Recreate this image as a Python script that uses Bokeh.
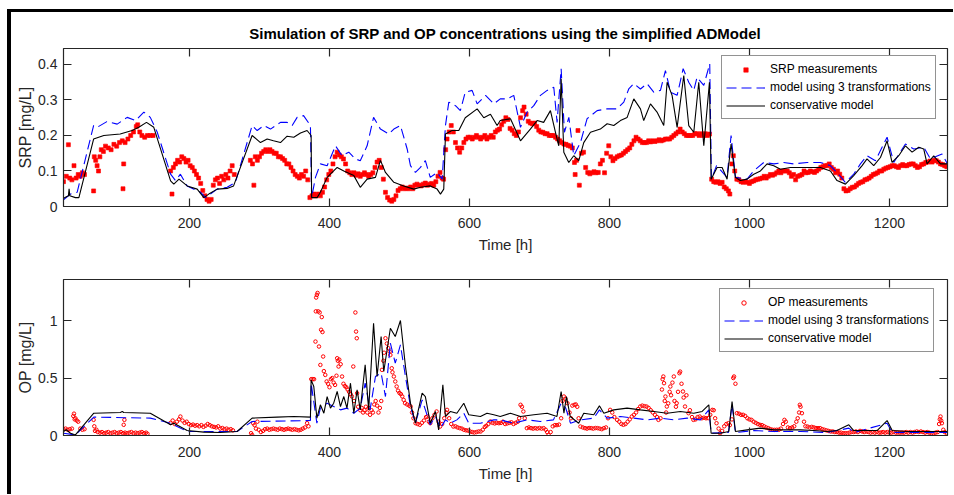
from bokeh.plotting import figure
from bokeh.layouts import column
from bokeh.models import (Range1d, LinearAxis, FixedTicker, CustomJSTickFormatter,
                          Legend, LegendItem, CustomLabelingPolicy, InlineStyleSheet)
from bokeh.embed import file_html
from bokeh.resources import INLINE

# ---------------- data ----------------
title_text = "Simulation of SRP and OP concentrations using the simplified ADModel"
x_ticks = [200, 400, 600, 800, 1000, 1200]
srp_ticks = [0, 0.1, 0.2, 0.3, 0.4]
op_ticks = [0, 0.5, 1]
x_limits = [20, 1283]
srp_limits = [0, 0.445]
op_limits = [0, 1.357]

srp_meas_t = [
    20, 24, 27, 29, 32, 35, 38, 41, 44, 47,
    50, 63, 64, 66, 68, 70, 72, 74, 77, 80,
    84, 88, 92, 96, 100, 104, 105, 106, 108, 112,
    116, 120, 124, 126, 129, 132, 136, 140, 144, 148,
    173, 175, 177, 180, 183, 186, 189, 192, 195, 198,
    201, 204, 207, 210, 213, 216, 219, 222, 225, 228,
    231, 234, 237, 240, 243, 246, 249, 252, 255, 258,
    261, 264, 287, 290, 292, 294, 297, 300, 303, 306,
    309, 312, 315, 318, 321, 324, 327, 330, 333, 336,
    339, 342, 345, 348, 351, 354, 357, 360, 363, 366,
    369, 372, 375, 378, 381, 384, 387, 390, 393, 396,
    399, 402, 405, 408, 411, 414, 417, 420, 423, 426,
    429, 432, 435, 438, 441, 444, 447, 450, 453, 456,
    459, 462, 465, 468, 471, 474, 477, 480, 483, 486,
    489, 492, 495, 498, 501, 504, 507, 510, 513, 516,
    519, 522, 525, 528, 531, 534, 537, 540, 543, 546,
    549, 552, 555, 558, 561, 563, 566, 568, 571, 574,
    577, 580, 583, 586, 589, 592, 595, 598, 601, 604,
    607, 610, 613, 616, 619, 622, 625, 628, 631, 634,
    637, 640, 643, 646, 649, 652, 655, 658, 661, 664,
    667, 670, 673, 676, 678, 681, 684, 687, 690, 693,
    696, 699, 702, 705, 708, 711, 714, 717, 720, 723,
    726, 729, 732, 735, 738, 741, 744, 747, 750, 751,
    753, 755, 757, 760, 763, 766, 769, 772, 775, 778,
    781, 784, 787, 790, 793, 796, 799, 802, 805, 808,
    811, 814, 817, 820, 823, 826, 829, 832, 835, 838,
    841, 844, 847, 850, 853, 856, 859, 862, 865, 868,
    871, 874, 877, 880, 883, 886, 889, 892, 895, 898,
    901, 904, 907, 910, 913, 916, 919, 922, 925, 928,
    931, 934, 937, 940, 943, 946, 949, 952, 955, 958,
    961, 964, 967, 970, 972, 975, 977, 979, 982, 985,
    988, 991, 994, 997, 1000, 1003, 1006, 1009, 1012, 1015,
    1018, 1021, 1024, 1027, 1030, 1033, 1036, 1039, 1042, 1045,
    1048, 1051, 1054, 1057, 1060, 1063, 1066, 1069, 1072, 1075,
    1078, 1081, 1084, 1087, 1090, 1093, 1096, 1099, 1102, 1105,
    1108, 1111, 1114, 1117, 1120, 1123, 1126, 1129, 1132, 1135,
    1138, 1141, 1144, 1147, 1150, 1153, 1156, 1159, 1162, 1165,
    1168, 1171, 1174, 1177, 1180, 1183, 1186, 1189, 1192, 1195,
    1198, 1201, 1204, 1207, 1210, 1213, 1216, 1219, 1222, 1225,
    1228, 1231, 1234, 1237, 1240, 1243, 1246, 1249, 1252, 1255,
    1258, 1261, 1264, 1267, 1270, 1273, 1276, 1279, 1282]
srp_meas = [
    0.07, 0.085, 0.174, 0.08, 0.075, 0.115, 0.08, 0.09, 0.085, 0.095,
    0.09, 0.044, 0.14, 0.13, 0.115, 0.1, 0.14, 0.16, 0.155, 0.17,
    0.165, 0.16, 0.175, 0.17, 0.18, 0.185, 0.05, 0.12, 0.18, 0.19,
    0.2, 0.21, 0.225, 0.23, 0.21, 0.2, 0.195, 0.2, 0.2, 0.2,
    0.1, 0.035, 0.11, 0.12, 0.13, 0.125, 0.14, 0.135, 0.125, 0.13,
    0.115, 0.11, 0.1, 0.09, 0.08, 0.065, 0.045, 0.03, 0.02, 0.015,
    0.02, 0.06, 0.075, 0.08, 0.065, 0.085, 0.075, 0.09, 0.08, 0.1,
    0.115, 0.09, 0.13, 0.12, 0.06, 0.14, 0.13, 0.14, 0.15, 0.155,
    0.16, 0.155, 0.16, 0.155, 0.15, 0.15, 0.14, 0.14, 0.135, 0.13,
    0.12, 0.12, 0.11, 0.1, 0.09, 0.085, 0.08, 0.09, 0.085, 0.1,
    0.075, 0.025, 0.03, 0.035, 0.03, 0.035, 0.03, 0.04, 0.055, 0.075,
    0.09, 0.1, 0.12, 0.14, 0.153, 0.145, 0.14, 0.134, 0.12, 0.1,
    0.095, 0.09, 0.095, 0.088, 0.092, 0.085, 0.09, 0.095, 0.09, 0.085,
    0.09, 0.095, 0.11, 0.125, 0.13, 0.11, 0.077, 0.04, 0.025, 0.018,
    0.015, 0.02, 0.03, 0.045, 0.05, 0.055, 0.05, 0.052, 0.05, 0.055,
    0.05, 0.06, 0.063, 0.06, 0.058, 0.063, 0.066, 0.06, 0.063, 0.065,
    0.06, 0.07, 0.085, 0.096, 0.08, 0.077, 0.16, 0.19, 0.21, 0.228,
    0.21, 0.18, 0.165, 0.153, 0.165, 0.18, 0.19, 0.195, 0.195, 0.19,
    0.195, 0.2, 0.195, 0.19, 0.195, 0.2, 0.19, 0.195, 0.2, 0.195,
    0.21, 0.215, 0.218, 0.23, 0.24, 0.25, 0.245, 0.22, 0.215, 0.205,
    0.2, 0.21, 0.25, 0.27, 0.28, 0.26, 0.24, 0.235, 0.233, 0.235,
    0.225, 0.215, 0.21, 0.209, 0.205, 0.205, 0.2, 0.2, 0.2, 0.195,
    0.19, 0.185, 0.18, 0.176, 0.175, 0.172, 0.17, 0.165, 0.124, 0.09,
    0.13, 0.214, 0.06, 0.15, 0.153, 0.11, 0.096, 0.092, 0.095, 0.098,
    0.095, 0.096, 0.12, 0.13, 0.095, 0.15, 0.171, 0.14, 0.129, 0.135,
    0.14, 0.143, 0.145, 0.15, 0.155, 0.16, 0.165, 0.175, 0.185, 0.195,
    0.19, 0.185, 0.18, 0.18, 0.18, 0.185, 0.182, 0.185, 0.183, 0.185,
    0.188, 0.185, 0.187, 0.19, 0.19, 0.19, 0.195, 0.2, 0.205, 0.21,
    0.218, 0.21, 0.205, 0.2, 0.2, 0.2, 0.2, 0.205, 0.205, 0.2,
    0.205, 0.2, 0.205, 0.2, 0.204, 0.077, 0.07, 0.068, 0.07, 0.065,
    0.068, 0.055, 0.05, 0.044, 0.035, 0.12, 0.143, 0.1, 0.077, 0.075,
    0.07, 0.068, 0.07, 0.068, 0.065, 0.07, 0.072, 0.075, 0.077, 0.078,
    0.08, 0.085, 0.08, 0.085, 0.09, 0.088, 0.091, 0.095, 0.1, 0.095,
    0.1, 0.1, 0.1, 0.095, 0.085, 0.09, 0.075, 0.085, 0.087, 0.09,
    0.1, 0.095, 0.096, 0.1, 0.098, 0.096, 0.1, 0.105, 0.11, 0.112,
    0.115, 0.115, 0.12, 0.11, 0.105, 0.095, 0.1, 0.091, 0.08, 0.05,
    0.044, 0.045, 0.05, 0.054, 0.055, 0.06, 0.065, 0.068, 0.07, 0.075,
    0.077, 0.08, 0.085, 0.09, 0.092, 0.095, 0.1, 0.1, 0.105, 0.108,
    0.11, 0.112, 0.115, 0.115, 0.112, 0.11, 0.115, 0.118, 0.115, 0.115,
    0.118, 0.12, 0.12, 0.115, 0.11, 0.112, 0.118, 0.12, 0.124, 0.125,
    0.128, 0.125, 0.13, 0.129, 0.125, 0.12, 0.118, 0.115, 0.112]

srp_model3_t = [
    20, 30, 39.5, 63, 68, 82, 96.7, 111, 123, 134.8,
    144, 154, 173, 180, 187, 196.7, 216, 223, 239.5, 253.8,
    265.7, 289.5, 296.7, 306, 315.7, 330, 339.5, 346.7, 353.8, 363,
    372.8, 374.5, 380, 387, 396.7, 408.6, 418, 427.6, 437, 444,
    453.8, 463, 472.8, 484.8, 492, 501.4, 511, 515.7, 522.8, 530,
    537, 544, 553.8, 561, 565.7, 570.5, 580, 587, 594, 603.8,
    611, 623, 634.8, 644, 654, 663.3, 672.9, 682.4, 691.9, 701.4,
    711, 720.5, 725.2, 731, 735.7, 742, 749, 758.6, 768, 782.4,
    796.7, 811, 820.5, 827.6, 834.8, 844.3, 853.8, 863.3, 872.9, 880,
    887.2, 896.7, 905.3, 913.3, 920.5, 925.2, 934.8, 943.3, 945.7, 953,
    968, 973.8, 980, 996.7, 1006, 1020.5, 1035, 1049, 1063.3, 1082.4,
    1101.4, 1115.7, 1125, 1137, 1149, 1158.6, 1168, 1180, 1196.7, 1206.2,
    1222.9, 1234.8, 1249, 1258.6, 1275.2, 1283]
srp_model3 = [
    0.019, 0.035, 0.04, 0.228, 0.223, 0.239, 0.232, 0.251, 0.242, 0.266,
    0.251, 0.209, 0.091, 0.073, 0.091, 0.058, 0.04, 0.025, 0.049, 0.054,
    0.068, 0.228, 0.214, 0.228, 0.218, 0.237, 0.237, 0.228, 0.251, 0.256,
    0.228, 0.025, 0.082, 0.12, 0.115, 0.171, 0.143, 0.153, 0.134, 0.129,
    0.171, 0.251, 0.218, 0.204, 0.218, 0.228, 0.162, 0.115, 0.096, 0.11,
    0.129, 0.082, 0.096, 0.077, 0.228, 0.294, 0.284, 0.27, 0.322, 0.327,
    0.289, 0.313, 0.289, 0.303, 0.303, 0.313, 0.223, 0.266, 0.284, 0.313,
    0.327, 0.336, 0.237, 0.388, 0.209, 0.251, 0.143, 0.18, 0.247, 0.27,
    0.275, 0.275, 0.294, 0.331, 0.346, 0.331, 0.346, 0.322, 0.327, 0.383,
    0.322, 0.313, 0.388, 0.35, 0.327, 0.364, 0.341, 0.402, 0.077, 0.115,
    0.082, 0.2, 0.082, 0.077, 0.1, 0.124, 0.12, 0.124, 0.12, 0.124,
    0.124, 0.115, 0.096, 0.068, 0.091, 0.12, 0.143, 0.129, 0.195, 0.124,
    0.176, 0.162, 0.167, 0.134, 0.148, 0.12]

srp_cons_t = [
    20, 27, 28, 29, 37, 42, 63, 77.6, 101, 118,
    127.6, 138.6, 149, 173, 177.6, 185, 196.7, 211, 220.5, 227.6,
    239.5, 253.8, 263, 289.5, 301.4, 311, 320, 330, 339.5, 349,
    358.6, 368, 373.8, 374.5, 382.4, 387, 396.7, 411, 420.5, 434.8,
    444, 453.8, 465.7, 472.8, 480, 492, 506, 520.5, 530, 544,
    553.8, 558.6, 563.3, 565.7, 575, 584.8, 594, 611, 620.5, 630,
    639.5, 644, 658.6, 672.9, 687, 696.7, 706, 715.7, 722.9, 727.6,
    731, 734.8, 741.9, 749, 756.2, 763.3, 772.9, 787, 796.7, 806.2,
    815.7, 825.3, 834.8, 844.3, 849, 858.6, 868, 877.6, 882.4, 889.5,
    896.7, 906.2, 913.3, 920.5, 927.6, 934.8, 942.9, 945.3, 953.8, 961,
    968.1, 973.8, 980, 987, 996.7, 1006.2, 1015.7, 1025.2, 1034.8, 1044.3,
    1058.6, 1072.9, 1087.2, 1101.4, 1115.7, 1125.2, 1137.2, 1149, 1161, 1168,
    1177.6, 1187.2, 1196.7, 1203.8, 1213.3, 1222.9, 1232.4, 1242, 1249, 1253.8,
    1263.3, 1272.9, 1283]
srp_cons = [
    0.023, 0.03, 0.05, 0.03, 0.025, 0.025, 0.19, 0.2, 0.204, 0.214,
    0.223, 0.237, 0.223, 0.072, 0.063, 0.077, 0.058, 0.049, 0.025, 0.035,
    0.049, 0.051, 0.058, 0.2, 0.18, 0.19, 0.185, 0.18, 0.198, 0.195,
    0.207, 0.214, 0.2, 0.025, 0.025, 0.04, 0.082, 0.11, 0.1, 0.087,
    0.054, 0.077, 0.082, 0.13, 0.096, 0.068, 0.058, 0.049, 0.054, 0.058,
    0.049, 0.035, 0.049, 0.204, 0.214, 0.214, 0.25, 0.275, 0.25, 0.26,
    0.228, 0.242, 0.247, 0.185, 0.218, 0.242, 0.237, 0.27, 0.209, 0.171,
    0.36, 0.153, 0.124, 0.143, 0.129, 0.18, 0.209, 0.218, 0.233, 0.228,
    0.242, 0.251, 0.303, 0.275, 0.242, 0.289, 0.266, 0.228, 0.35, 0.313,
    0.223, 0.369, 0.228, 0.209, 0.35, 0.171, 0.35, 0.077, 0.11, 0.11,
    0.077, 0.176, 0.082, 0.073, 0.077, 0.091, 0.1, 0.12, 0.115, 0.105,
    0.11, 0.11, 0.11, 0.11, 0.1, 0.073, 0.063, 0.087, 0.115, 0.134,
    0.115, 0.138, 0.185, 0.124, 0.143, 0.171, 0.153, 0.167, 0.162, 0.12,
    0.143, 0.12, 0.12]

op_meas_t = [
    20, 23, 26, 29, 32, 34, 35, 36, 37, 39,
    41, 44, 47, 50, 63, 64, 65, 67, 69, 72,
    75, 78, 81, 84, 87, 90, 93, 96, 99, 102,
    105, 106, 107, 108, 111, 114, 117, 120, 123, 126,
    129, 132, 135, 138, 140, 173, 176, 179, 182, 185,
    187, 190, 193, 196, 199, 202, 205, 208, 211, 214,
    217, 220, 223, 226, 229, 232, 235, 238, 241, 244,
    247, 250, 253, 256, 259, 262, 288, 289.5, 291, 293,
    295, 297, 299, 302, 305, 308, 311, 314, 317, 320,
    323, 326, 329, 332, 335, 338, 341, 344, 347, 350,
    353, 356, 359, 362, 365, 368, 370, 374, 376, 378,
    380, 380.5, 381, 382, 383, 384, 385, 386, 387, 388,
    389, 390, 391, 392, 394, 396, 398, 400, 402, 404,
    406, 408, 410, 411, 412, 413, 414, 416, 418, 420,
    422, 424, 426, 428, 430, 432, 434, 435, 437, 438,
    439, 439.5, 441, 444, 446, 448, 450, 452, 454, 456,
    458, 460, 462, 464, 466, 468, 470, 472, 474, 475,
    477, 478, 480, 482, 484, 486, 487, 489, 490, 492,
    494, 496, 498, 500, 502, 504, 506, 508, 511, 514,
    516, 518, 520, 523, 526, 529, 532, 535, 538, 540,
    542, 544, 547, 550, 553, 556, 558, 561, 564, 567,
    568, 571, 574, 577, 580, 583, 586, 589, 592, 595,
    598, 601, 604, 607, 610, 613, 616, 619, 622, 624,
    627, 630, 633, 636, 639, 642, 645, 648, 651, 654,
    657, 660, 663, 666, 669, 671, 673, 675, 677, 679,
    682, 685, 688, 691, 694, 697, 700, 703, 706, 709,
    711, 713, 716, 719, 722, 725, 728, 731, 733, 735,
    737, 740, 743, 745, 747, 750, 752, 754, 756, 758.6,
    762, 765, 768, 771, 774, 777, 780, 783, 786, 789,
    792, 795, 798, 801, 804, 807, 811, 814, 817, 820,
    823, 826, 829, 832, 835, 838, 841, 844, 847, 850,
    853, 856, 859, 862, 865, 868, 870, 873, 875, 876,
    877, 878, 879, 880, 881, 882, 884, 886, 887, 888,
    890, 892, 893, 895, 896, 898, 900, 901, 903, 905,
    906, 908, 910, 913, 915, 918, 920, 923, 926, 929,
    932, 935, 938, 941, 944, 947, 949, 951, 953, 956,
    958, 961, 964, 967, 970, 972, 975, 977, 978, 980,
    982, 985, 988, 991, 994, 997, 1000, 1003, 1006, 1009,
    1012, 1015, 1018, 1021, 1024, 1027, 1030, 1033, 1036, 1039,
    1042, 1045, 1048, 1050, 1052, 1055, 1058, 1061, 1064, 1067,
    1069, 1071, 1072, 1073, 1075, 1078, 1080, 1083, 1086, 1089,
    1092, 1095, 1098, 1101, 1104, 1107, 1110, 1113, 1116, 1119,
    1122, 1125, 1128, 1131, 1134, 1137, 1140, 1143, 1146, 1149,
    1152, 1155, 1158, 1161, 1164, 1167, 1170, 1173, 1176, 1179,
    1182, 1185, 1188, 1191, 1194, 1197, 1200, 1203, 1206, 1209,
    1212, 1215, 1218, 1221, 1224, 1227, 1230, 1233, 1236, 1239,
    1242, 1245, 1248, 1251, 1254, 1257, 1260, 1263, 1266, 1269,
    1271, 1272, 1273, 1274, 1275, 1277, 1279, 1282]
op_meas = [
    0.055, 0.06, 0.05, 0.055, 0.06, 0.17, 0.19, 0.14, 0.15, 0.13,
    0.12, 0.06, 0.05, 0.055, 0.136, 0.08, 0.04, 0.05, 0.03, 0.025,
    0.03, 0.02, 0.025, 0.03, 0.02, 0.025, 0.03, 0.02, 0.025, 0.03,
    0.02, 0.093, 0.136, 0.025, 0.02, 0.025, 0.03, 0.02, 0.025, 0.02,
    0.025, 0.03, 0.02, 0.025, 0.015, 0.11, 0.13, 0.1, 0.12, 0.14,
    0.165, 0.13, 0.11, 0.12, 0.1, 0.09, 0.095, 0.085, 0.09, 0.08,
    0.09, 0.075, 0.085, 0.1, 0.09, 0.08, 0.075, 0.07, 0.08, 0.06,
    0.065, 0.055, 0.06, 0.05, 0.055, 0.045, 0.02, 0.005, 0.107, 0.09,
    0.06, 0.12, 0.05, 0.03, 0.04, 0.055, 0.06, 0.05, 0.055, 0.06,
    0.055, 0.05, 0.06, 0.055, 0.05, 0.055, 0.06, 0.055, 0.05, 0.055,
    0.05, 0.045, 0.05, 0.06, 0.07, 0.107, 0.08, 0.49, 0.49, 0.49,
    0.817, 1.08, 1.2, 1.223, 1.24, 1.08, 0.774, 1.07, 0.614, 0.92,
    1.03, 0.9, 0.687, 0.56, 0.527, 0.47, 0.45, 0.42, 0.49, 0.5,
    0.46, 0.44, 0.52, 0.672, 0.65, 0.6, 0.66, 0.62, 0.513, 0.45,
    0.43, 0.42, 0.4, 0.38, 0.36, 0.34, 0.6, 0.3, 1.07, 0.904,
    0.846, 0.368, 0.25, 0.22, 0.24, 0.2, 0.22, 0.25, 0.2, 0.24,
    0.18, 0.22, 0.2, 0.27, 0.3, 0.26, 0.2, 0.24, 0.3, 0.571,
    0.65, 0.72, 0.846, 0.8, 0.76, 0.73, 0.7, 0.585, 0.55, 0.513,
    0.47, 0.426, 0.39, 0.37, 0.36, 0.34, 0.31, 0.281, 0.27, 0.26,
    0.252, 0.2, 0.15, 0.107, 0.1, 0.093, 0.11, 0.13, 0.16, 0.165,
    0.12, 0.107, 0.15, 0.18, 0.209, 0.12, 0.078, 0.1, 0.15, 0.2,
    0.223, 0.15, 0.1, 0.078, 0.08, 0.07, 0.064, 0.06, 0.05, 0.045,
    0.043, 0.035, 0.03, 0.026, 0.03, 0.035, 0.035, 0.05, 0.075, 0.084,
    0.1, 0.122, 0.11, 0.105, 0.11, 0.107, 0.11, 0.12, 0.1, 0.105,
    0.11, 0.115, 0.1, 0.11, 0.12, 0.15, 0.267, 0.25, 0.209, 0.15,
    0.064, 0.07, 0.064, 0.06, 0.064, 0.06, 0.065, 0.06, 0.064, 0.05,
    0.03, 0.005, 0.03, 0.08, 0.09, 0.09, 0.095, 0.15, 0.3, 0.339,
    0.32, 0.281, 0.2, 0.15, 0.26, 0.267, 0.27, 0.25, 0.15, 0.078,
    0.07, 0.064, 0.06, 0.065, 0.064, 0.06, 0.065, 0.064, 0.06, 0.055,
    0.064, 0.07, 0.15, 0.223, 0.2, 0.16, 0.136, 0.12, 0.1, 0.093,
    0.1, 0.12, 0.14, 0.165, 0.18, 0.2, 0.23, 0.252, 0.26, 0.255,
    0.252, 0.24, 0.22, 0.2, 0.18, 0.16, 0.136, 0.15, 0.4, 0.49,
    0.513, 0.455, 0.3, 0.339, 0.2, 0.252, 0.28, 0.38, 0.426, 0.35,
    0.46, 0.513, 0.3, 0.25, 0.281, 0.38, 0.542, 0.556, 0.45, 0.383,
    0.33, 0.252, 0.35, 0.194, 0.22, 0.16, 0.136, 0.14, 0.16, 0.165,
    0.15, 0.155, 0.15, 0.151, 0.18, 0.223, 0.22, 0.15, 0.107, 0.06,
    0.02, 0.04, 0.08, 0.1, 0.107, 0.09, 0.14, 0.5, 0.513, 0.45,
    0.194, 0.19, 0.18, 0.18, 0.17, 0.15, 0.14, 0.136, 0.12, 0.11,
    0.1, 0.093, 0.09, 0.08, 0.07, 0.064, 0.055, 0.05, 0.049, 0.05,
    0.05, 0.06, 0.1, 0.136, 0.12, 0.07, 0.064, 0.07, 0.08, 0.12,
    0.15, 0.2, 0.267, 0.25, 0.194, 0.12, 0.08, 0.078, 0.07, 0.075,
    0.07, 0.065, 0.064, 0.064, 0.055, 0.05, 0.045, 0.04, 0.035, 0.035,
    0.03, 0.03, 0.025, 0.025, 0.02, 0.02, 0.02, 0.025, 0.03, 0.03,
    0.035, 0.03, 0.04, 0.035, 0.03, 0.035, 0.03, 0.025, 0.03, 0.025,
    0.03, 0.025, 0.026, 0.03, 0.025, 0.03, 0.026, 0.025, 0.03, 0.025,
    0.026, 0.025, 0.026, 0.025, 0.03, 0.025, 0.03, 0.025, 0.03, 0.035,
    0.03, 0.035, 0.03, 0.025, 0.03, 0.025, 0.02, 0.02, 0.025, 0.03,
    0.1, 0.14, 0.165, 0.13, 0.107, 0.05, 0.03, 0.02]

op_model3_t = [
    20, 37, 63.3, 144, 173, 196.7, 268, 289.5, 372.8, 373.8,
    382, 387, 396.7, 406, 415.7, 425, 434.8, 444, 451, 458,
    465.7, 473.8, 480, 487, 494, 501.4, 508.6, 515.7, 522.8, 532.4,
    544, 551.4, 558.6, 565.7, 572.8, 582, 591.9, 599, 615.7, 634.8,
    644, 663, 682, 701.4, 720, 731, 737.6, 744.3, 758.6, 777.6,
    785.7, 796.7, 815.7, 835, 853.8, 873, 892, 911, 930, 942,
    945.3, 970, 975.2, 980, 1006, 1035, 1073, 1111, 1142, 1150,
    1196.7, 1204, 1283]
op_model3 = [
    0.02, 0.005, 0.16, 0.151, 0.107, 0.035, 0.035, 0.122, 0.13, 0.455,
    0.107, 0.238, 0.281, 0.252, 0.223, 0.238, 0.194, 0.238, 0.455, 0.223,
    0.513, 0.542, 0.339, 0.803, 0.629, 0.788, 0.513, 0.252, 0.107, 0.31,
    0.093, 0.165, 0.064, 0.136, 0.107, 0.136, 0.194, 0.107, 0.107, 0.136,
    0.136, 0.107, 0.136, 0.122, 0.136, 0.281, 0.238, 0.107, 0.136, 0.151,
    0.223, 0.151, 0.165, 0.151, 0.136, 0.151, 0.136, 0.151, 0.136, 0.223,
    0.02, 0.026, 0.267, 0.026, 0.043, 0.035, 0.035, 0.026, 0.064, 0.026,
    0.107, 0.026, 0.026]

op_cons_t = [
    20, 24, 30, 37, 63.3, 101.4, 104, 106, 144, 173,
    177.6, 196.7, 220.5, 244, 268, 289.5, 325, 349, 372.8, 373.8,
    377.6, 382, 387, 392, 396.7, 401.4, 406, 411, 415.7, 420.5,
    425, 430, 434.8, 439.5, 444, 451, 456, 463, 468, 473.8,
    477.6, 487, 494, 501.4, 508.6, 515.7, 522.8, 532.4, 537, 544,
    551.4, 556, 562, 565.7, 572.8, 582, 591.9, 599, 615.7, 625,
    634.8, 644, 658.6, 672.9, 692, 711, 725, 731, 735, 738.6,
    744, 756, 763.3, 777.6, 785.7, 792, 806.2, 825.2, 844.3, 863.3,
    882.4, 901.4, 920.5, 932.4, 942, 945.3, 958.6, 970.5, 975.2, 980,
    996.7, 1015.7, 1035, 1053.8, 1073, 1092, 1111, 1125, 1142, 1149,
    1168, 1182.4, 1196.7, 1204, 1225.3, 1244.3, 1263.3, 1283]
op_cons = [
    0.035, 0.05, 0.02, 0.005, 0.194, 0.2, 0.21, 0.2, 0.194, 0.093,
    0.107, 0.043, 0.029, 0.026, 0.035, 0.151, 0.16, 0.165, 0.16, 0.484,
    0.426, 0.151, 0.267, 0.194, 0.339, 0.238, 0.281, 0.383, 0.252, 0.339,
    0.238, 0.455, 0.194, 0.397, 0.223, 0.614, 0.223, 0.977, 0.513, 0.861,
    0.557, 0.933, 0.861, 1.0, 0.6, 0.281, 0.107, 0.368, 0.339, 0.107,
    0.209, 0.049, 0.44, 0.165, 0.209, 0.194, 0.281, 0.18, 0.165, 0.194,
    0.18, 0.165, 0.194, 0.165, 0.18, 0.194, 0.165, 0.383, 0.194, 0.339,
    0.165, 0.107, 0.194, 0.18, 0.258, 0.194, 0.223, 0.238, 0.223, 0.209,
    0.194, 0.209, 0.194, 0.209, 0.267, 0.02, 0.02, 0.035, 0.296, 0.035,
    0.049, 0.064, 0.049, 0.049, 0.049, 0.043, 0.035, 0.043, 0.093, 0.043,
    0.043, 0.043, 0.13, 0.043, 0.035, 0.035, 0.035, 0.035]

# ---------------- styling ----------------
FONT = "Liberation Sans"
AX = "#262626"

HIDE_LABELS = """
if (typeof indices.clear === "function") {
  indices.clear()
} else {
  for (let i = 0; i < indices.size; i++) { indices.unset(i) }
}
return indices
"""


def pair(t, v):
    n = min(len(t), len(v))
    return list(t[:n]), list(v[:n])


def make_fig(width, height, ylim, yticks, ylabel, top_border, bottom_border, title=None):
    kw = dict(width=width, height=height,
              x_range=Range1d(x_limits[0], x_limits[1]),
              y_range=Range1d(ylim[0], ylim[1]),
              output_backend="svg", toolbar_location=None,
              min_border_left=52, min_border_right=6,
              min_border_top=top_border, min_border_bottom=bottom_border)
    if title:
        kw["title"] = title
    p = figure(**kw)
    p.xgrid.visible = False
    p.ygrid.visible = False
    p.background_fill_color = "white"
    p.border_fill_color = "white"
    p.outline_line_color = AX
    p.outline_line_width = 1

    fmt = CustomJSTickFormatter(code="return String(Number(tick.toFixed(3)));")
    xt = FixedTicker(ticks=x_ticks, minor_ticks=[])
    yt = FixedTicker(ticks=yticks, minor_ticks=[])

    for ax, tick, lab, size in ((p.xaxis[0], xt, "Time [h]", "15px"),
                                (p.yaxis[0], yt, ylabel, "16px")):
        ax.ticker = tick
        ax.formatter = fmt
        ax.axis_label = lab
        ax.axis_label_text_font = FONT
        ax.axis_label_text_font_size = size
        ax.axis_label_text_font_style = "normal"
        ax.axis_label_text_color = AX
        ax.major_label_text_font = FONT
        ax.major_label_text_font_size = "14px"
        ax.major_label_text_color = AX
        ax.major_tick_in = 8
        ax.major_tick_out = 0
        ax.minor_tick_in = 0
        ax.minor_tick_out = 0
        ax.axis_line_color = AX
        ax.axis_line_width = 1.2
        ax.major_tick_line_color = AX
        ax.major_tick_line_width = 1.2
    p.xaxis[0].major_label_standoff = 11
    p.xaxis[0].axis_label_standoff = 5
    p.yaxis[0].major_label_standoff = 6
    p.yaxis[0].axis_label_standoff = 1

    for side, tick in (("above", xt), ("right", yt)):
        a = LinearAxis(ticker=tick, major_label_text_font_size="1px",
                       major_label_policy=CustomLabelingPolicy(code=HIDE_LABELS),
                       major_label_standoff=0, major_tick_in=8, major_tick_out=0,
                       minor_tick_in=0, minor_tick_out=0,
                       axis_line_color=AX, axis_line_width=1.2,
                       major_tick_line_color=AX, major_tick_line_width=1.2)
        p.add_layout(a, side)
    return p


# ---------------- top: SRP ----------------
p1 = make_fig(942, 246, srp_limits, srp_ticks, "SRP [mg/L]", 36, 52, title_text)
p1.title.align = "center"
p1.title.text_font = FONT
p1.title.text_font_size = "15px"
p1.title.text_font_style = "bold"
p1.title.text_color = "black"
p1.title.standoff = 6

mt, mv = pair(srp_meas_t, srp_meas)
r1 = p1.scatter(mt, mv, marker="square", size=4, fill_color="red", line_color="red",
                line_width=0.6)
bt, bv = pair(srp_model3_t, srp_model3)
r2 = p1.line(bt, bv, line_color="blue", line_width=1.1, line_dash="10 5")
ct, cv = pair(srp_cons_t, srp_cons)
r3 = p1.line(ct, cv, line_color="black", line_width=1.1)

leg1 = Legend(items=[LegendItem(label="SRP measurements", renderers=[r1]),
                     LegendItem(label="model using 3 transformations", renderers=[r2]),
                     LegendItem(label="conservative model", renderers=[r3])],
              location=(658, 87))

# ---------------- bottom: OP ----------------
p2 = make_fig(942, 236, op_limits, op_ticks, "OP [mg/L]", 21, 59)
mt2, mv2 = pair(op_meas_t, op_meas)
s1 = p2.scatter(mt2, mv2, marker="circle", size=3.5, fill_alpha=0,
                line_color="red", line_width=1.0)
bt2, bv2 = pair(op_model3_t, op_model3)
s2 = p2.line(bt2, bv2, line_color="blue", line_width=1.1, line_dash="10 5")
ct2, cv2 = pair(op_cons_t, op_cons)
s3 = p2.line(ct2, cv2, line_color="black", line_width=1.1)

leg2 = Legend(items=[LegendItem(label="OP measurements", renderers=[s1]),
                     LegendItem(label="model using 3 transformations", renderers=[s2]),
                     LegendItem(label="conservative model", renderers=[s3])],
              location=(656, 83))

for leg, p in ((leg1, p1), (leg2, p2)):
    leg.border_line_color = AX
    leg.border_line_width = 1
    leg.background_fill_color = "white"
    leg.background_fill_alpha = 1
    leg.label_text_font = FONT
    leg.label_text_font_size = "12px"
    leg.label_text_color = "black"
    leg.glyph_width = 39
    leg.glyph_height = 11
    leg.label_height = 18
    leg.label_standoff = 5
    leg.spacing = 0
    leg.padding = 4
    leg.margin = 0
    p.add_layout(leg)

frame_css = InlineStyleSheet(css=(
    ":host { margin-left: 7px; margin-top: 9px; "
    "border-left: 4px solid #000; border-top: 3px solid #000; box-sizing: content-box; }"))
layout = column(p1, p2, spacing=0, stylesheets=[frame_css])

open("out.html", "w").write(file_html(layout, INLINE))
